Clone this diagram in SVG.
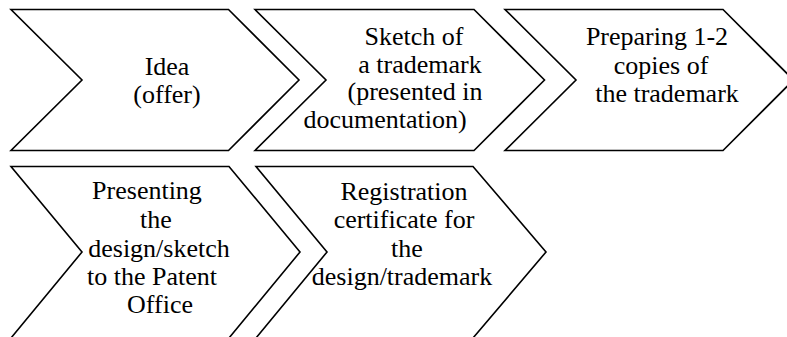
<svg xmlns="http://www.w3.org/2000/svg" width="787" height="337" viewBox="0 0 787 337">
  <style>
    .step { fill: #ffffff; stroke: #000000; stroke-width: 1.6; stroke-linejoin: miter; }
    text { font-family: 'Liberation Serif', 'DejaVu Serif', serif; font-size: 26px; fill: #000000; text-anchor: middle; }
  </style>
  <rect x="0" y="0" width="787" height="337" fill="#ffffff"/>
  <g id="connectors"/>
  <g id="node-idea">
    <polygon class="step" points="11,9.5 228.5,9.5 299,80 228.5,150.5 11,150.5 82,80"/>
    <text font-family="Liberation Serif, serif"><tspan x="167" y="75">Idea</tspan><tspan x="167" y="103">(offer)</tspan></text>
  </g>
  <g id="node-sketch">
    <polygon class="step" points="255,9.5 474,9.5 544.5,80 474,150.5 255,150.5 326,80"/>
    <text font-family="Liberation Serif, serif"><tspan x="414" y="45">Sketch of</tspan><tspan x="420" y="73">a trademark</tspan><tspan x="415" y="100">(presented in</tspan><tspan x="385" y="128">documentation)</tspan></text>
  </g>
  <g id="node-copies">
    <polygon class="step" points="505,9.5 723,9.5 793.5,80 723,150.5 505,150.5 576,80"/>
    <text font-family="Liberation Serif, serif"><tspan x="657" y="45">Preparing 1-2</tspan><tspan x="661" y="74">copies of</tspan><tspan x="667" y="102">the trademark</tspan></text>
  </g>
  <g id="node-presenting">
    <polygon class="step" points="11,166.5 229,166.5 300,252 229,338 11,338 82,252"/>
    <text font-family="Liberation Serif, serif"><tspan x="147" y="199">Presenting</tspan><tspan x="156" y="228">the</tspan><tspan x="159" y="257">design/sketch</tspan><tspan x="152" y="285">to the Patent</tspan><tspan x="160" y="313">Office</tspan></text>
  </g>
  <g id="node-certificate">
    <polygon class="step" points="256,166.5 473,166.5 546,252 473,338 256,338 327,252"/>
    <text font-family="Liberation Serif, serif"><tspan x="404" y="200">Registration</tspan><tspan x="404" y="228">certificate for</tspan><tspan x="407" y="257">the</tspan><tspan x="402" y="285">design/trademark</tspan></text>
  </g>
</svg>
